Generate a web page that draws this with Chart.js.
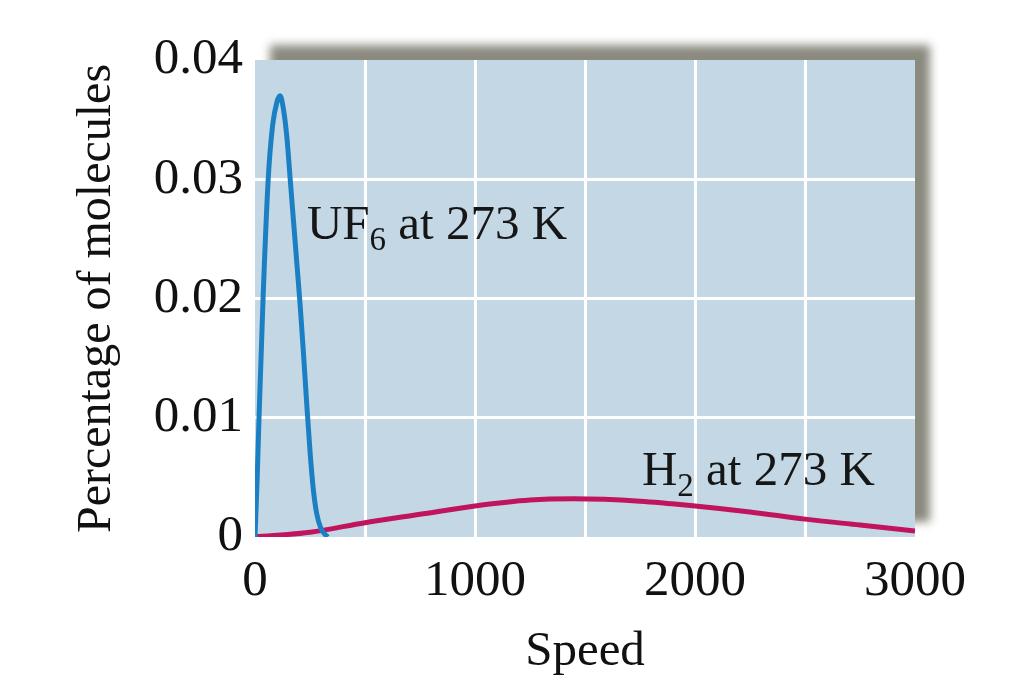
<!DOCTYPE html>
<html>
<head>
<meta charset="utf-8">
<script src="https://cdn.jsdelivr.net/npm/chart.js@4.4.1/dist/chart.umd.min.js"></script>
<style>
  body { margin: 0; background: #fff; }
  #wrap { width: 1023px; height: 682px; }
</style>
</head>
<body>
<div id="wrap"><canvas id="myChart" width="1023" height="682"></canvas></div>
<script>
// speeds and percentages
const uf6Speed = [0, 10, 18, 37, 60, 80, 100, 114, 130, 145, 160, 175, 190, 205, 220, 235, 250, 265, 280, 300, 330];
const uf6Pct   = [0, 0.005, 0.0098, 0.0202, 0.030, 0.0345, 0.0365, 0.037, 0.0358, 0.0335, 0.030, 0.0265, 0.023, 0.0195, 0.0155, 0.0112, 0.0072, 0.0040, 0.0020, 0.0007, 0];

const h2Speed = [0, 250, 500, 750, 1000, 1250, 1450, 1750, 2000, 2250, 2500, 2750, 3000];
const h2Pct   = [0, 0.0004, 0.0012, 0.0019, 0.0026, 0.0031, 0.0032, 0.0030, 0.0026, 0.0021, 0.0015, 0.0010, 0.0005];

const xTickStep = 500;   // grid every 500, labels every 1000
const yTickStep = 0.01;

const serif = '"Liberation Serif", "DejaVu Serif", serif';

const toPoints = (xs, ys) => xs.map((x, i) => ({ x: x, y: ys[i] }));

// light blue plot panel with a soft grey shadow behind it
const panel = {
  id: 'panel',
  beforeDraw(chart) {
    const { ctx, chartArea: a } = chart;
    ctx.save();
    ctx.filter = 'blur(5px)';
    ctx.fillStyle = '#8a8a7f';
    ctx.fillRect(a.left + 15, a.top - 15, a.right - a.left, a.bottom - a.top);
    ctx.restore();
    ctx.save();
    ctx.fillStyle = '#c3d8e4';
    ctx.fillRect(a.left, a.top, a.right - a.left, a.bottom - a.top);
    ctx.restore();
  }
};

// curve labels with subscripts
const curveLabels = {
  id: 'curveLabels',
  afterDatasetsDraw(chart) {
    const { ctx, scales } = chart;
    const items = [
      { x: 236, y: 0.025, main: 'UF', sub: '6', rest: ' at 273 K' },
      { x: 1759, y: 0.0044, main: 'H', sub: '2', rest: ' at 273 K' }
    ];
    ctx.save();
    ctx.fillStyle = '#161616';
    ctx.textBaseline = 'alphabetic';
    ctx.textAlign = 'left';
    items.forEach(it => {
      let px = scales.x.getPixelForValue(it.x);
      const py = scales.y.getPixelForValue(it.y);
      ctx.font = '49px ' + serif;
      ctx.fillText(it.main, px, py);
      px += ctx.measureText(it.main).width;
      ctx.font = '33px ' + serif;
      ctx.fillText(it.sub, px, py + 11);
      px += ctx.measureText(it.sub).width;
      ctx.font = '49px ' + serif;
      ctx.fillText(it.rest, px, py);
    });
    ctx.restore();
  }
};

const gridColor = (c) => {
  const n = c.scale.ticks.length;
  return (c.index === 0 || c.index === n - 1) ? 'rgba(0,0,0,0)' : '#ffffff';
};

const speedChart = new Chart(document.getElementById('myChart'), {
  type: 'scatter',
  data: {
    datasets: [
      {
        label: 'UF6 at 273 K',
        data: toPoints(uf6Speed, uf6Pct),
        showLine: true,
        borderColor: '#1b80c3',
        borderWidth: 5,
        pointRadius: 0,
        cubicInterpolationMode: 'monotone',
      },
      {
        label: 'H2 at 273 K',
        data: toPoints(h2Speed, h2Pct),
        showLine: true,
        borderColor: '#c0145e',
        borderWidth: 5,
        pointRadius: 0,
        cubicInterpolationMode: 'monotone',
      },
    ],
  },
  options: {
    responsive: false,
    animation: false,
    layout: { padding: { top: 60, right: 108, bottom: 0, left: 40 } },
    plugins: {
      legend: { display: false },
      tooltip: { enabled: false },
    },
    scales: {
      x: {
        type: 'linear',
        min: 0,
        max: 3000,
        border: { display: false },
        grid: { color: gridColor, lineWidth: 3, drawTicks: false },
        ticks: {
          stepSize: xTickStep,
          autoSkip: false,
          maxRotation: 0,
          padding: 14,
          color: '#111',
          font: { family: serif, size: 51 },
          callback: (v) => (v % 1000 === 0 ? String(v) : ''),
        },
        title: {
          display: true,
          text: 'Speed',
          color: '#111',
          font: { family: serif, size: 49 },
          padding: { top: 0, bottom: 0 },
        },
        afterFit: (s) => { s.height = 145; },
      },
      y: {
        min: 0,
        max: 0.04,
        border: { display: false },
        grid: { color: gridColor, lineWidth: 3, drawTicks: false },
        ticks: {
          stepSize: yTickStep,
          padding: 12,
          color: '#111',
          font: { family: serif, size: 51 },
          callback: (v) => (v === 0 ? '0' : v.toFixed(2)),
        },
        title: {
          display: true,
          text: 'Percentage of molecules',
          color: '#111',
          font: { family: serif, size: 48 },
          padding: { top: 29, bottom: 0 },
        },
        afterFit: (s) => { s.width = 215; },
      },
    },
  },
  plugins: [panel, curveLabels],
});
</script>
</body>
</html>
